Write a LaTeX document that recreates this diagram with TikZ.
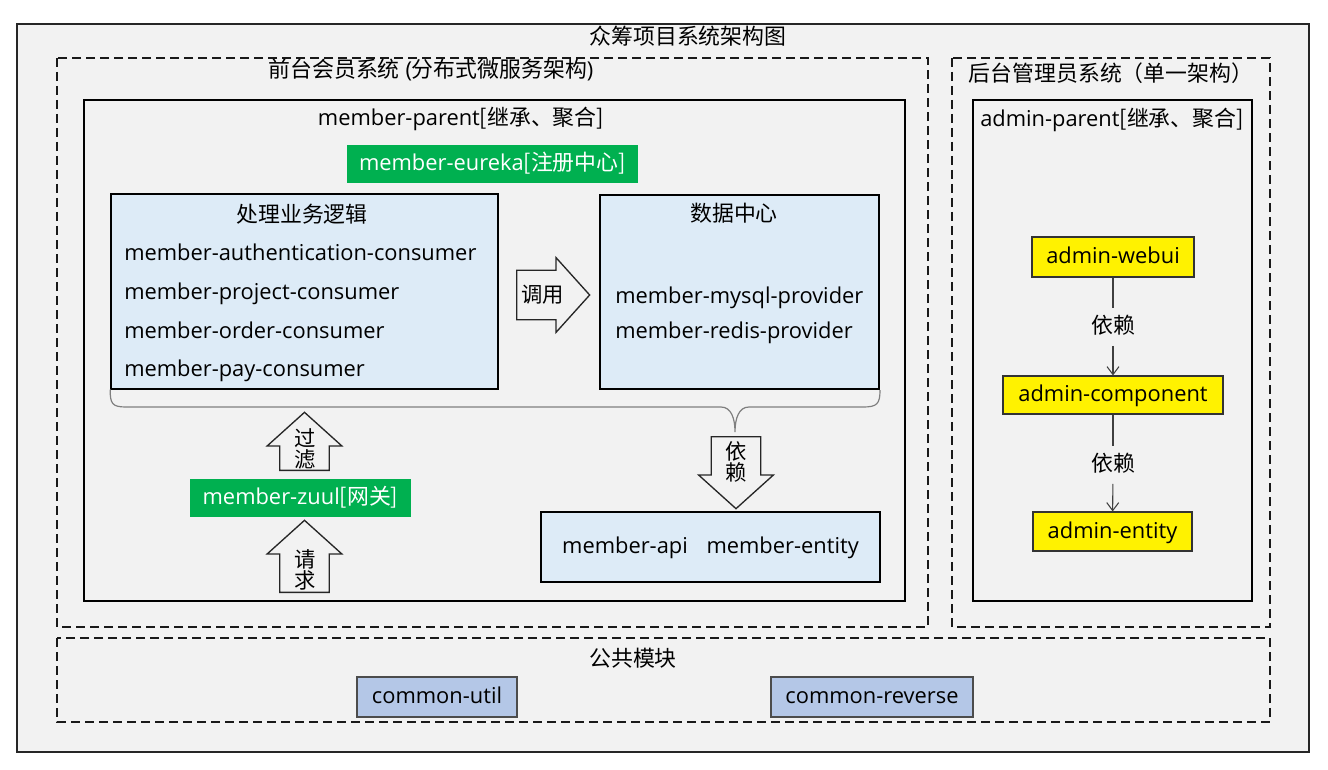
\documentclass[tikz,border=0pt]{standalone}
\usepackage{fontspec}
\setmainfont{Open Sans}
\newfontfamily\cjk{Noto Sans CJK SC}
\usepackage{xcolor}
\usetikzlibrary{positioning,shapes.arrows,arrows.meta}

\definecolor{panelgray}{HTML}{F2F2F2}
\definecolor{modblue}{HTML}{DDEBF7}
\definecolor{regreen}{HTML}{00B050}
\definecolor{comblue}{HTML}{B4C7E7}
\definecolor{bracegray}{HTML}{7F7F7F}

\begin{document}
\fontsize{16.4pt}{20pt}\selectfont
\begin{tikzpicture}[
    x=0.75pt, y=-0.75pt,
    frame/.style = {draw=black!85, line width=1.6pt, fill=panelgray},
    group/.style = {draw=black!90, line width=1.5pt, dash pattern=on 6.5pt off 4pt},
    parent/.style = {draw=black, line width=1.5pt},
    lbl/.style = {inner sep=0pt, text height=13pt, text depth=3pt},
    modbox/.style = {draw=black, line width=1.5pt, fill=modblue, lbl},
    greenbox/.style = {fill=regreen, text=white, lbl},
    adminbox/.style = {draw=black!80, line width=0.8pt, fill=yellow, lbl},
    combox/.style = {draw=black!70, line width=0.8pt, fill=comblue, lbl},
    blockarrow/.style = {draw=black!85, line width=1pt, fill=panelgray, single arrow,
                         single arrow tip angle=96, minimum width=56pt},
    harrow/.style = {blockarrow, inner xsep=0pt, inner ysep=13.5pt},
    varrow/.style = {blockarrow, inner xsep=13.5pt, inner ysep=0pt},
    arrowtext/.style = {font=\cjk\fontsize{16pt}{16pt}\selectfont, align=center, inner sep=0pt},
    brace/.style = {draw=bracegray, line width=0.9pt},
    depline/.style = {draw=black!75, line width=0.8pt},
    dep/.style = {lbl, font=\cjk, inner ysep=6pt}
]
    \useasboundingbox (0,0) rectangle (1328,770);

    % Frames
    \draw[frame] (17,24) rectangle (1309,752);
    \draw[group] (57,58) rectangle (928,627);
    \draw[group] (952,58) rectangle (1270,627);
    \draw[group] (57,638) rectangle (1270,722);
    \draw[parent] (84,100) rectangle (905,601);
    \draw[parent] (973,100) rectangle (1252,601);

    \node[lbl, font=\cjk] (title) at (688,38) {众筹项目系统架构图};
    \node[lbl] (front) at (431,71) {{\cjk 前台会员系统} ({\cjk 分布式微服务架构})};
    \node[lbl] (mparent) at (461,119) {member-parent{\cjk[继承、聚合]}};
    \node[greenbox, minimum width=218pt, minimum height=29pt] (eureka) at (492.5,164) {member-eureka{\cjk[注册中心]}};

    % Consumers
    \node[modbox, minimum width=290pt, minimum height=145.5pt] (logic) at (304.5,291.5) {};
    \node[lbl, font=\cjk] (logictitle) at (302,216) {处理业务逻辑};
    \node[lbl, anchor=west] (auth) at (124,254) {member-authentication-consumer};
    \node[lbl, anchor=west] (project) at (124,293) {member-project-consumer};
    \node[lbl, anchor=west] (order) at (124,332) {member-order-consumer};
    \node[lbl, anchor=west] (pay) at (124,370) {member-pay-consumer};

    % Providers
    \node[modbox, minimum width=209.25pt, minimum height=145.5pt] (data) at (739.5,292) {};
    \node[lbl, font=\cjk] (datatitle) at (734,215) {数据中心};
    \node[lbl, anchor=west] (mysql) at (615,297) {member-mysql-provider};
    \node[lbl, anchor=west] (redis) at (615,332) {member-redis-provider};

    \node[harrow, minimum height=54.75pt, anchor=tail] (call) at (516,295) {};
    \node[arrowtext] (calltext) at (542.5,295) {调用};

    % Brace
    \draw[brace] (logic.south west) .. controls +(0,14) and +(-14,0) .. (126,407)
        -- (721,407) .. controls +(10,0) and +(0,-14) .. (735,432)
        .. controls +(0,-14) and +(-10,0) .. (749,407)
        -- (863,407) .. controls +(14,0) and +(0,14) .. (data.south east);

    % Gateway
    \node[varrow, shape border rotate=90, minimum height=43.5pt, anchor=tail] (filter) at (304.5,471) {};
    \node[arrowtext] (filtertext) at (305,449) {过\\滤};
    \node[greenbox, minimum width=165.75pt, minimum height=28.5pt] (zuul) at (300.5,498) {member-zuul{\cjk[网关]}};
    \node[varrow, shape border rotate=90, minimum height=54pt, anchor=tail] (request) at (304.5,593) {};
    \node[arrowtext] (requesttext) at (305,570) {请\\求};

    % Common api
    \node[varrow, shape border rotate=270, minimum height=54pt, anchor=tail] (depend) at (736,436) {};
    \node[arrowtext] (dependtext) at (736,462) {依\\赖};
    \node[modbox, minimum width=254.25pt, minimum height=52.5pt] (api) at (710.5,547) {member-api\hspace{14pt}member-entity};

    % Admin
    \node[lbl, font=\cjk] (alabel) at (1111,75) {后台管理员系统（单一架构）};
    \node[lbl] (aparent) at (1112,120) {admin-parent{\cjk[继承、聚合]}};
    \node[adminbox, minimum width=121.5pt, minimum height=30pt] (webui) at (1113,257) {admin-webui};
    \node[dep] (dep1) at (1113,327) {依赖};
    \node[adminbox, minimum width=165pt, minimum height=28.5pt] (component) at (1113,395) {admin-component};
    \node[dep] (dep2) at (1113,465) {依赖};
    \node[adminbox, minimum width=119.25pt, minimum height=29.25pt] (entity) at (1112.5,531.5) {admin-entity};

    \draw[depline] (webui) -- (dep1);
    \draw[depline, -{Straight Barb[length=6pt,width=9pt]}] (dep1) -- (component);
    \draw[depline] (component) -- (dep2);
    \draw[depline, -{Straight Barb[length=6pt,width=9pt]}] (dep2) -- (entity);

    % Common
    \node[lbl, font=\cjk] (commonlabel) at (633,660) {公共模块};
    \node[combox, minimum width=120pt, minimum height=30pt] (util) at (437,697) {common-util};
    \node[combox, minimum width=151.5pt, minimum height=30pt] (reverse) at (872,697) {common-reverse};
\end{tikzpicture}
\end{document}
